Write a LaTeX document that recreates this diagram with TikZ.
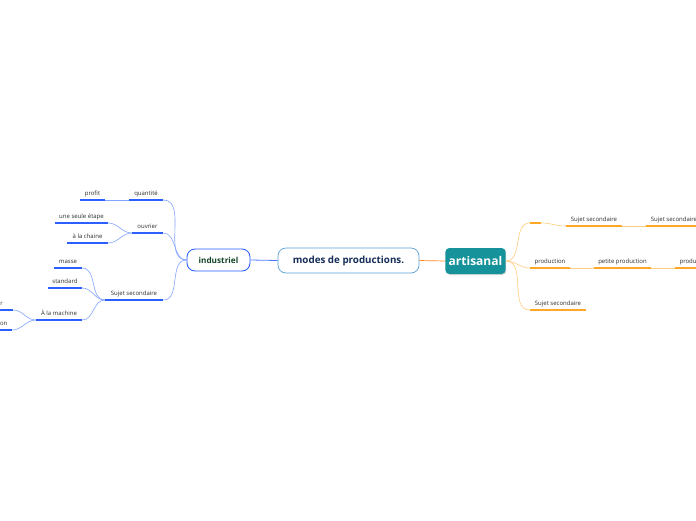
\documentclass[tikz,border=0pt]{standalone}
\usepackage{fontspec}
\setmainfont{Open Sans}
\usetikzlibrary{positioning,shadows}
\definecolor{rootBorder}{RGB}{90,160,216}
\definecolor{rootText}{RGB}{22,45,90}
\definecolor{indBlue}{RGB}{35,90,255}
\definecolor{indText}{RGB}{20,70,40}
\definecolor{artTeal}{RGB}{22,146,154}
\definecolor{barBlue}{RGB}{45,95,255}
\definecolor{lineBlue}{RGB}{130,165,255}
\definecolor{barOrange}{RGB}{255,167,38}
\definecolor{lineOrange}{RGB}{255,204,128}
\definecolor{textGray}{RGB}{45,45,45}

\begin{document}
\begin{tikzpicture}[x=1pt,y=-1pt,
    sub/.style={font=\fontsize{6}{7}\selectfont, text=textGray, inner xsep=0pt,
      inner ysep=3.5pt, anchor=south, text height=4.5pt, text depth=1.3pt},
    lbar/.style={barBlue, line width=1.4pt},
    lline/.style={lineBlue, line width=0.6pt},
    rbar/.style={barOrange, line width=1.4pt},
    rline/.style={lineOrange, line width=0.6pt}]
  \useasboundingbox (0,0) rectangle (696,520);
  \clip (0,0) rectangle (696,520);
  \fill[white] (0,0) rectangle (696,520);

  % central topics
  \node[draw=rootBorder, line width=0.7pt, rounded corners=8pt, fill=white,
    minimum width=141pt, minimum height=25pt, text=rootText,
    font=\fontsize{9.8}{11}\selectfont\bfseries] (root) at (348.5,260.5) {modes de productions.};
  \node[draw=indBlue, line width=0.8pt, rounded corners=8pt, fill=white,
    minimum width=63pt, minimum height=22pt, text=indText,
    font=\fontsize{8.2}{9}\selectfont\bfseries] (industriel) at (218.5,260) {industriel};
  \node[fill=artTeal, rounded corners=4pt, drop shadow={shadow xshift=0.6pt, shadow yshift=-1pt, opacity=0.3},
    minimum width=59pt, minimum height=26pt, text=white,
    font=\fontsize{12}{14}\selectfont\bfseries] (artisanal) at (475.5,261) {artisanal};
  \draw[indBlue!80, line width=0.8pt] (root.west) -- (industriel.east);
  \draw[barOrange!80!red, line width=0.7pt] (root.east) -- (artisanal.west);

  % industriel side
  \node[sub, minimum width=34pt] (quantite) at (146,200) {quantité};
  \node[sub, minimum width=25pt] (profit) at (92.5,200) {profit};
  \node[sub, minimum width=31pt] (ouvrier) at (147.5,233) {ouvrier};
  \node[sub, minimum width=53pt] (etape) at (81.5,223) {une seule étape};
  \node[sub, minimum width=41pt] (chaine) at (87.5,243) {à la chaine};
  \node[sub, minimum width=58pt] (sujetL) at (134,300) {Sujet secondaire};
  \node[sub, minimum width=28pt] (masse) at (68,268) {masse};
  \node[sub, minimum width=34pt] (standard) at (65,288) {standard};
  \node[sub, minimum width=46pt] (machine) at (59,320) {À la machine};
  \node[sub, minimum width=40pt] (vapeur) at (-7,310) {\hfill vapeur\hspace{4pt}};
  \node[sub, minimum width=40pt] (prodL) at (-8,330) {\hfill production\hspace{5pt}};

  \foreach \n in {quantite,profit,ouvrier,etape,chaine,sujetL,masse,standard,machine,vapeur,prodL}
    \draw[lbar] (\n.south west) -- (\n.south east);

  \draw[lline] (industriel.west) to[out=180,in=0] (quantite.south east);
  \draw[lline] (industriel.west) to[out=180,in=0] (ouvrier.south east);
  \draw[lline] (industriel.west) to[out=180,in=0] (sujetL.south east);
  \draw[lline] (quantite.south west) -- (profit.south east);
  \draw[lline] (ouvrier.south west) to[out=180,in=0] (etape.south east);
  \draw[lline] (ouvrier.south west) to[out=180,in=0] (chaine.south east);
  \draw[lline] (sujetL.south west) to[out=180,in=0] (masse.south east);
  \draw[lline] (sujetL.south west) to[out=180,in=0] (standard.south east);
  \draw[lline] (sujetL.south west) to[out=180,in=0] (machine.south east);
  \draw[lline] (machine.south west) to[out=180,in=0] (vapeur.south east);
  \draw[lline] (machine.south west) to[out=180,in=0] (prodL.south east);

  % artisanal side
  \node[sub, minimum width=11pt] (vide) at (535.5,223) {};
  \node[sub, minimum width=56pt] (sujetR) at (594,226) {Sujet secondaire};
  \node[sub, minimum width=56pt] (sujetRR) at (674,226) {Sujet secondaire};
  \node[sub, minimum width=40pt] (prodR) at (550,268) {production};
  \node[sub, minimum width=57pt] (petite) at (622.5,268) {petite production};
  \node[sub, minimum width=40pt] (prodRR) at (695,268) {production};
  \node[sub, minimum width=56pt] (sujetRB) at (558,310) {Sujet secondaire};

  \foreach \n in {vide,sujetR,sujetRR,prodR,petite,prodRR,sujetRB}
    \draw[rbar] (\n.south west) -- (\n.south east);

  \draw[rline] (artisanal.east) to[out=0,in=180] (vide.south west);
  \draw[rline] (artisanal.east) to[out=0,in=180] (prodR.south west);
  \draw[rline] (artisanal.east) to[out=0,in=180] (sujetRB.south west);
  \draw[rline] (vide.south east) to[out=0,in=180] (sujetR.south west);
  \draw[rline] (sujetR.south east) -- (sujetRR.south west);
  \draw[rline] (prodR.south east) -- (petite.south west);
  \draw[rline] (petite.south east) -- (prodRR.south west);
\end{tikzpicture}
\end{document}
